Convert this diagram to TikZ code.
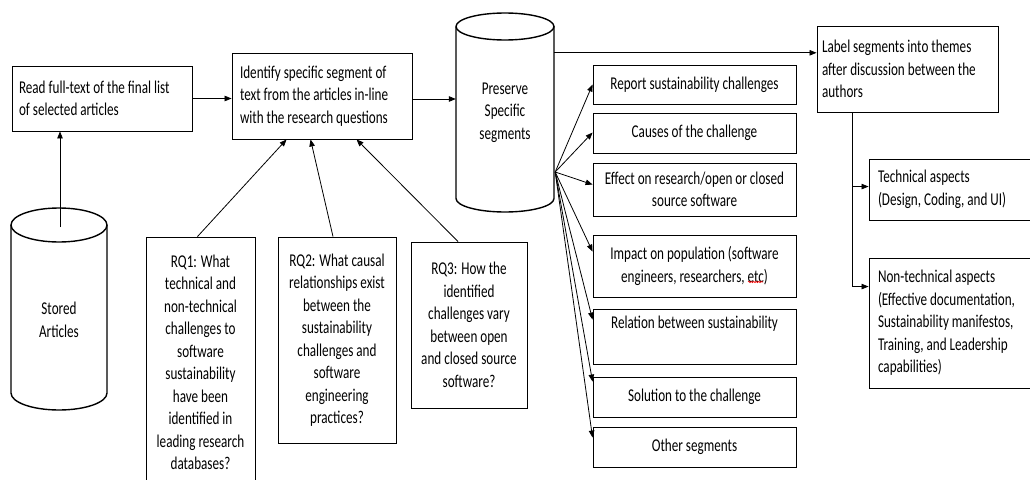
\documentclass[tikz,border=0pt]{standalone}
\usepackage{fontspec}
\setmainfont{Carlito}[FakeStretch=0.73]
\usetikzlibrary{arrows.meta,calc,decorations.pathmorphing}
\newcommand\natsp{\spaceskip=0pt\relax\xspaceskip=0pt\relax}
\begin{document}
\begin{tikzpicture}[x=1pt,y=-1pt,
  every node/.style={font=\fontsize{18}{22.5}\selectfont, inner sep=0pt},
  box/.style={draw=black, line width=0.9pt, rectangle},
  lbox/.style={box, align=left},
  cbox/.style={box, align=center},
  cyl/.style={draw=black, line width=1.4pt},
  conn/.style={draw=black, line width=0.8pt},
  arr/.style={conn, -{Triangle[length=7pt,width=5.5pt]}}]
\useasboundingbox (0,0) rectangle (1030,479);
\clip (0,0) rectangle (1030,479);

% cylinders
\draw[cyl] (11,225) -- (11,393) arc[start angle=180,end angle=360,x radius=48pt,y radius=17pt] -- (107,225);
\draw[cyl] (59,225) ellipse[x radius=48pt,y radius=17pt];
\node[align=center] (sto) at (59,320) {Stored\\Articles};

\draw[cyl] (456,26.5) -- (456,198.5) arc[start angle=180,end angle=360,x radius=49pt,y radius=13.5pt] -- (554,26.5);
\draw[cyl] (505,26.5) ellipse[x radius=49pt,y radius=13.5pt];
\node[align=center, minimum width=98pt, minimum height=199pt] (pres) at (505,112.5) {Preserve\\Specific\\segments};

% main boxes
\node[lbox, minimum width=180pt, minimum height=65pt, text width=166pt] (read) at (102,98.5)
  {\natsp Read full-text of the final list\\of selected articles};
\node[lbox, minimum width=180pt, minimum height=86pt, text width=164pt] (ident) at (322,96)
  {\natsp Identify specific segment of\\text from the articles in-line\\with the research questions};
\node[lbox, minimum width=181pt, minimum height=86pt, text width=171pt] (label) at (907.5,69)
  {\natsp Label segments into themes\\after discussion between the\\authors};
\node[lbox, minimum width=176pt, minimum height=61pt, text width=158pt] (tech) at (957,189.5)
  {\natsp Technical aspects\\(Design, Coding, and UI)};
\node[lbox, minimum width=176pt, minimum height=130pt, text width=158pt] (nontech) at (957,323)
  {\natsp Non-technical aspects\\(Effective documentation,\\Sustainability manifestos,\\Training, and Leadership\\capabilities)};

% research questions
\node[cbox, minimum width=109pt, minimum height=251pt] (rq1) at (200.5,362.5)
  {RQ1: What\\technical and\\non-technical\\challenges to\\software\\sustainability\\have been\\identified in\\leading research\\databases?};
\node[cbox, minimum width=118pt, minimum height=206pt] (rq2) at (337,340)
  {RQ2: What causal\\relationships exist\\between the\\sustainability\\challenges and\\software\\engineering\\practices?};
\node[cbox, minimum width=116pt, minimum height=166pt] (rq3) at (469,325)
  {RQ3: How the\\identified\\challenges vary\\between open\\and closed source\\software?};

% segment list
\node[cbox, minimum width=203pt, minimum height=39pt] (b1) at (694.5,84.5) {Report sustainability challenges};
\node[cbox, minimum width=203pt, minimum height=40pt] (b2) at (694.5,133) {Causes of the challenge};
\node[cbox, minimum width=203pt, minimum height=53pt] (b3) at (694.5,189.5) {Effect on research/open or closed\\source software};
\node[cbox, minimum width=203pt, minimum height=62pt] (b4) at (694.5,266) {Impact on population (software\\engineers, researchers, etc)};
\node[cbox, minimum width=203pt, minimum height=55pt] (b5) at (694.5,336.5) {Relation between sustainability\\\strut};
\node[cbox, minimum width=203pt, minimum height=40pt] (b6) at (694.5,397) {Solution to the challenge};
\node[cbox, minimum width=203pt, minimum height=40pt] (b7) at (694.5,447) {Other segments};
\draw[red, line width=0.6pt, decorate, decoration={snake, amplitude=0.7pt, segment length=2.5pt}] (748,282) -- (763,282);

% connectors
\coordinate (sa) at (60,227);
\coordinate (ie) at ($(ident.east)+(0,3)$);
\coordinate (pe) at ($(pres.north east)+(0,40)$);
\draw[arr] (sa) -- (sa |- read.south);
\draw[arr] (read.east) -- (read.east -| ident.west);
\draw[arr] (ie) -- (ie -| pres.west);
\draw[arr] (pe) -- (pe -| label.west);
\draw[arr] ($(rq1.north)+(-3,0)$) -- ($(ident.south west)+(55,0)$);
\draw[arr] ($(rq2.north)+(-4,0)$) -- ($(ident.south west)+(79,0)$);
\draw[arr] ($(rq3.north)+(-11,0)$) -- ($(ident.south west)+(125,0)$);

\coordinate (ps) at ($(pres.east)+(1,59.5)$);
\draw[arr] (ps) -- ($(b1.north west)+(0,20)$);
\draw[arr] (ps) -- ($(b2.north west)+(0,20)$);
\draw[arr] (ps) -- ($(b3.north west)+(0,22)$);
\draw[arr] (ps) -- ($(b4.north west)+(0,17)$);
\draw[arr] (ps) -- ($(b5.north west)+(0,11)$);
\draw[arr] (ps) -- ($(b6.north west)+(0,5)$);
\draw[arr] (ps) -- ($(b7.north west)+(0,11)$);

\coordinate (lb) at ($(label.south west)+(36,0)$);
\draw[conn, line width=1.3pt] ($(label.south west)+(20,0)$) -- (lb);
\draw[arr] (lb) |- ($(tech.north west)+(0,28)$);
\draw[arr] (lb) |- ($(nontech.north west)+(0,29)$);
\end{tikzpicture}
\end{document}
